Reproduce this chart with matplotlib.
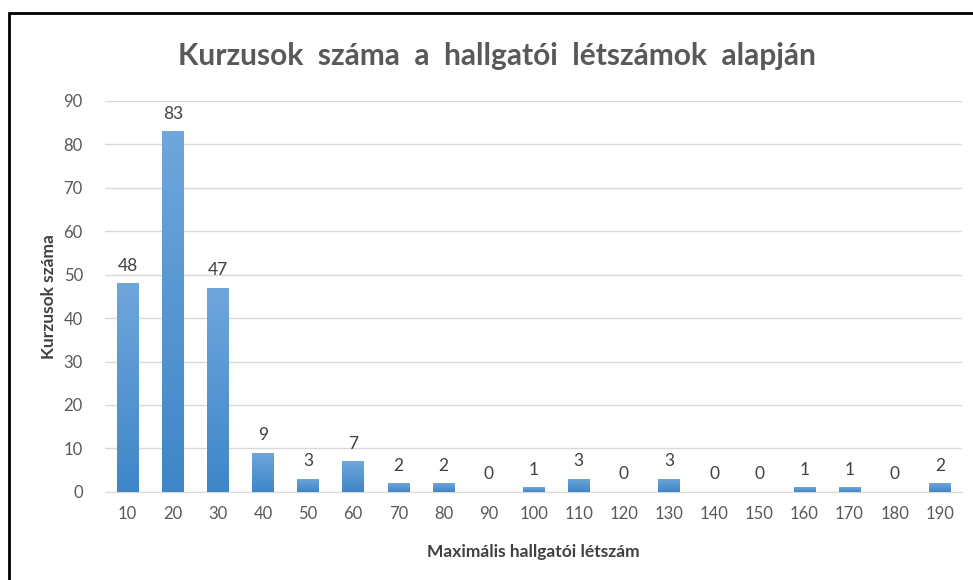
import numpy as np
import matplotlib.pyplot as plt
from matplotlib.patches import Rectangle
from matplotlib.colors import LinearSegmentedColormap

categories = ['10', '20', '30', '40', '50', '60', '70', '80', '90', '100',
              '110', '120', '130', '140', '150', '160', '170', '180', '190']
counts = [48, 83, 47, 9, 3, 7, 2, 2, 0, 1, 3, 0, 3, 0, 0, 1, 1, 0, 2]

plt.rcParams['font.family'] = ['Lato', 'DejaVu Sans']
gray = '#595959'

fig = plt.figure(figsize=(9.73, 5.8), dpi=100)
ax = fig.add_axes([0.108, 0.152, 0.881, 0.674])

x = np.arange(len(categories))
bars = ax.bar(x, counts, width=0.48, color='#5B9BD5', zorder=2)

# vertical gradient inside each bar
grad = np.linspace(0, 1, 100).reshape(-1, 1)
cmap = LinearSegmentedColormap.from_list('g', ['#3F86C8', '#6FA6DC'])
for b in bars:
    if b.get_height() <= 0:
        continue
    im = ax.imshow(grad, cmap=cmap, aspect='auto', origin='lower',
                   extent=[b.get_x(), b.get_x() + b.get_width(), 0, b.get_height()],
                   zorder=3)
    im.set_clip_path(b)

for xi, v in zip(x, counts):
    ax.text(xi, v + 2.2, str(v), ha='center', va='bottom', fontsize=12.5, color='#404040')

ax.set_xlim(-0.5, len(categories) - 0.5)
ax.set_ylim(0, 90)
ax.set_yticks(range(0, 91, 10))
ax.set_xticks(x)
ax.set_xticklabels(categories)
ax.grid(axis='y', color='#D9D9D9', linewidth=1, zorder=0)
for s in ['top', 'right', 'left']:
    ax.spines[s].set_visible(False)
ax.spines['bottom'].set_color('#D9D9D9')
ax.tick_params(axis='both', length=0, labelsize=12, labelcolor=gray)
ax.tick_params(axis='y', pad=16)
ax.tick_params(axis='x', pad=10)

fig.text(497 / 973, 1 - 56 / 580, 'Kurzusok  száma  a  hallgatói  létszámok  alapján',
         fontsize=21.5, fontweight='bold', color=gray, ha='center', va='center')
ax.set_xlabel('Maximális hallgatói létszám', fontsize=12.5, fontweight='bold',
              color='#404040', labelpad=16)
ax.set_ylabel('Kurzusok száma', fontsize=12.5, fontweight='bold', color='#404040',
              labelpad=4.5)

# black frame around the chart
fig.patches.append(Rectangle((9 / 973, -0.1), 1.2, 1 - 13 / 580 + 0.1,
                             transform=fig.transFigure, fill=False,
                             edgecolor='black', linewidth=2))

fig.savefig('out.png', dpi=100)
